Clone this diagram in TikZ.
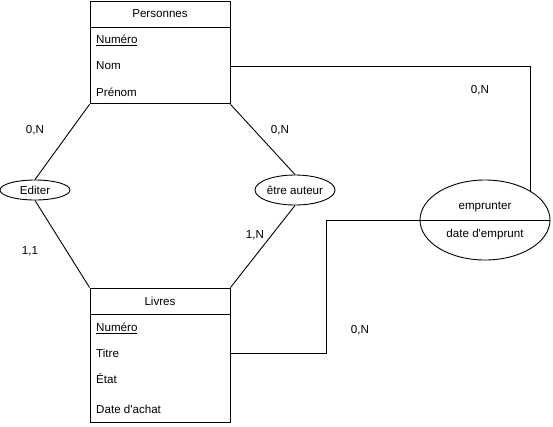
\documentclass[tikz,border=0pt]{standalone}
\usepackage{fontspec}
\setmainfont{Liberation Sans}
\usetikzlibrary{
  positioning,
  shapes.geometric
}

\begin{document}
\begin{tikzpicture}[
  x=1pt, y=-1pt,
  every node/.style={font=\fontsize{11.6}{13}\selectfont},
  entete/.style={rectangle, draw, line width=0.9pt, minimum width=140pt, minimum height=26pt, inner sep=0pt},
  corps/.style={rectangle, draw, line width=0.9pt, minimum width=140pt, inner sep=0pt},
  champ/.style={anchor=west, inner sep=0pt},
  assoc/.style={ellipse, draw, line width=0.9pt, inner sep=0pt},
  card/.style={inner sep=0pt},
  lien/.style={line width=0.9pt}
]
\useasboundingbox (0,0) rectangle (553,426);

% Entites
\node[entete] (pers) at (160,14) {Personnes};
\node[corps, minimum height=76pt, below=0pt of pers] (persB) {};
\node[champ] (pnum) at (96,40) {\underline{Numéro}};
\node[champ] (pnom) at (96,66) {Nom};
\node[champ] (ppre) at (96,92) {Prénom};

\node[entete] (livres) at (160,301) {Livres};
\node[corps, minimum height=108pt, below=0pt of livres] (livresB) {};
\node[champ] (lnum) at (96,328) {\underline{Numéro}};
\node[champ] (ltit) at (96,353) {Titre};
\node[champ] (leta) at (96,379) {État};
\node[champ] (ldat) at (96,409) {Date d\textquotesingle achat};

% Associations
\node[assoc, minimum width=70pt, minimum height=20pt] (editer) at (35,190) {Editer};
\node[assoc, minimum width=80pt, minimum height=30pt] (auteur) at (295,190) {être auteur};
\node[assoc, minimum width=130pt, minimum height=80pt] (emprunt) at (485,220) {};
\node (emprunt1) at (485,207) {emprunter};
\node (emprunt2) at (485,234) {date d\textquotesingle emprunt};
\draw[lien] (emprunt.west) -- (emprunt.east);

% Liens
\draw[lien] (persB.south west) -- (editer.north);
\draw[lien] (editer.south) -- (livres.north west);
\draw[lien] (persB.south east) -- (auteur.north);
\draw[lien] (auteur.south) -- (livres.north east);
\draw[lien] (persB.east |- pnom) -| (emprunt.33);
\coordinate (coude) at (326,353);
\draw[lien] (livresB.east |- ltit) -- (coude) |- (emprunt.west);

% Cardinalites
\node[card] (c1) at (35,130) {0,N};
\node[card] (c2) at (30,251) {1,1};
\node[card] (c3) at (280,130) {0,N};
\node[card] (c4) at (255,235) {1,N};
\node[card] (c5) at (480,90) {0,N};
\node[card] (c6) at (360,330) {0,N};

\end{tikzpicture}
\end{document}
